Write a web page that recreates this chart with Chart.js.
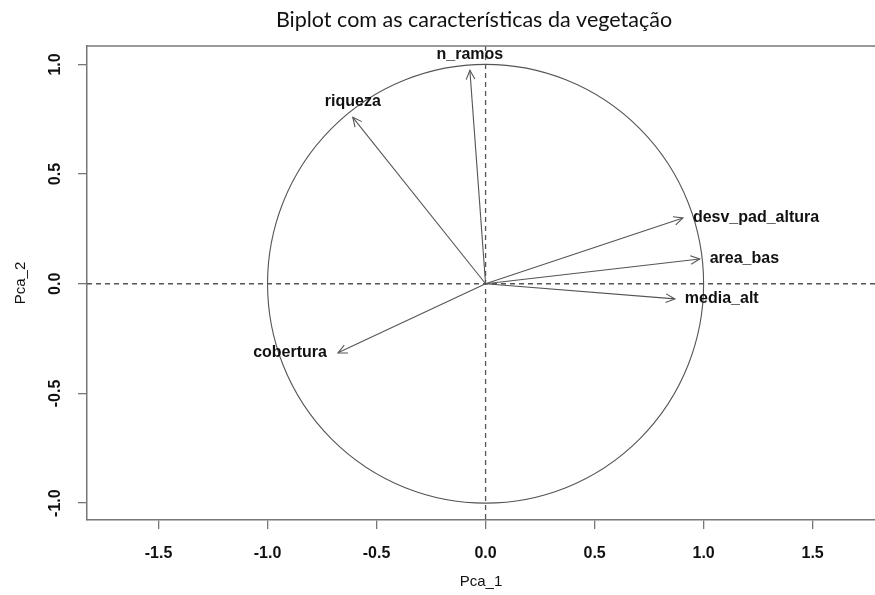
<!DOCTYPE html>
<html>
<head>
<meta charset="utf-8">
<script src="https://cdn.jsdelivr.net/npm/chart.js@4/dist/chart.umd.min.js"></script>
<style>
  html, body { margin: 0; padding: 0; background: #fff; overflow: hidden; }
  #wrap { width: 875px; height: 595px; }
</style>
</head>
<body>
<div id="wrap"><canvas id="biplot" width="875" height="595"></canvas></div>
<script>
// variáveis do PCA (cargas nos dois primeiros eixos)
const varNames = ['n_ramos', 'riqueza', 'desv_pad_altura', 'area_bas', 'media_alt', 'cobertura'];
const pca1 = [-0.072, -0.609, 0.905, 0.982, 0.868, -0.677];
const pca2 = [0.973, 0.759, 0.300, 0.113, -0.069, -0.315];

// ticks dos eixos
const xTicks = [-1.5, -1.0, -0.5, 0.0, 0.5, 1.0, 1.5];
const yTicks = [-1.0, -0.5, 0.0, 0.5, 1.0];

const chartTitle = 'Biplot com as características da vegetação';

// onde vai cada rótulo em relação à ponta da seta
const labelAlign = ['center', 'center', 'left', 'left', 'left', 'right'];

const lineColor = '#555';
const boxColor = '#777';

// uma seta = um dataset com dois pontos (origem e ponta)
const datasets = varNames.map((name, i) => ({
  label: name,
  data: [{ x: 0, y: 0 }, { x: pca1[i], y: pca2[i] }],
  showLine: true,
  borderColor: lineColor,
  borderWidth: 1.1,
  pointRadius: 0,
  fill: false,
}));

// círculo, linhas tracejadas, pontas das setas e rótulos
const biplotExtras = {
  id: 'biplotExtras',
  beforeDatasetsDraw(chart) {
    const { ctx, chartArea, scales } = chart;
    const sx = scales.x, sy = scales.y;
    const cx = sx.getPixelForValue(0), cy = sy.getPixelForValue(0);
    ctx.save();
    ctx.beginPath();
    ctx.rect(chartArea.left, chartArea.top, chartArea.right - chartArea.left, chartArea.bottom - chartArea.top);
    ctx.clip();
    // linhas tracejadas em 0
    ctx.strokeStyle = '#555';
    ctx.lineWidth = 1.3;
    ctx.setLineDash([5, 4]);
    ctx.beginPath();
    ctx.moveTo(chartArea.left, cy);
    ctx.lineTo(chartArea.right, cy);
    ctx.moveTo(cx, chartArea.top);
    ctx.lineTo(cx, chartArea.bottom);
    ctx.stroke();
    ctx.setLineDash([]);
    // círculo de correlação (raio 1)
    const rx = sx.getPixelForValue(1) - cx;
    const ry = cy - sy.getPixelForValue(1);
    ctx.strokeStyle = lineColor;
    ctx.lineWidth = 1.1;
    ctx.beginPath();
    ctx.ellipse(cx, cy, rx, ry, 0, 0, Math.PI * 2);
    ctx.stroke();
    ctx.restore();
  },
  afterDatasetsDraw(chart) {
    const { ctx, scales } = chart;
    const sx = scales.x, sy = scales.y;
    const x0 = sx.getPixelForValue(0), y0 = sy.getPixelForValue(0);
    ctx.save();
    ctx.strokeStyle = lineColor;
    ctx.lineWidth = 1.1;
    varNames.forEach((name, i) => {
      const px = sx.getPixelForValue(pca1[i]);
      const py = sy.getPixelForValue(pca2[i]);
      const ang = Math.atan2(py - y0, px - x0);
      const len = 10, spread = Math.PI / 7;
      ctx.beginPath();
      ctx.moveTo(px - len * Math.cos(ang - spread), py - len * Math.sin(ang - spread));
      ctx.lineTo(px, py);
      ctx.lineTo(px - len * Math.cos(ang + spread), py - len * Math.sin(ang + spread));
      ctx.stroke();

      // rótulo
      ctx.fillStyle = '#111';
      ctx.font = 'bold 16px "Liberation Sans", Arial, sans-serif';
      ctx.textBaseline = 'middle';
      const a = labelAlign[i];
      ctx.textAlign = a;
      let tx = px, ty = py;
      if (a === 'center') ty = py - 16;
      else if (a === 'left') tx = px + 10;
      else tx = px - 11;
      ctx.fillText(name, tx, ty);
    });
    ctx.restore();
  },
  afterDraw(chart) {
    const { ctx, chartArea, scales } = chart;
    ctx.save();
    // título (centrado como no original, que era mais largo)
    ctx.fillStyle = '#111';
    ctx.font = '21.5px Lato, "Open Sans", sans-serif';
    ctx.textAlign = 'center';
    ctx.textBaseline = 'middle';
    ctx.fillText(chartTitle, 474, 20);
    // linha de cima da caixa
    ctx.strokeStyle = boxColor;
    ctx.lineWidth = 1.5;
    ctx.beginPath();
    ctx.moveTo(chartArea.left, chartArea.top);
    ctx.lineTo(chartArea.right, chartArea.top);
    ctx.stroke();
    // rótulos do eixo y girados (estilo R)
    ctx.font = 'bold 16px "Liberation Sans", Arial, sans-serif';
    scales.y.ticks.forEach(t => {
      const y = scales.y.getPixelForValue(t.value);
      ctx.save();
      ctx.translate(56, y);
      ctx.rotate(-Math.PI / 2);
      ctx.fillText(t.value.toFixed(1), 0, 0);
      ctx.restore();
    });
    ctx.restore();
  }
};

const ctx = document.getElementById('biplot').getContext('2d');
new Chart(ctx, {
  type: 'scatter',
  data: { datasets: datasets },
  options: {
    responsive: false,
    animation: false,
    layout: { padding: { top: 46, left: 0, right: 0, bottom: 0 } },
    scales: {
      x: {
        type: 'linear',
        min: -1.828,
        max: 1.786,
        afterBuildTicks: (scale) => { scale.ticks = xTicks.map(v => ({ value: v })); },
        afterFit: (scale) => { scale.height = 75; },
        ticks: {
          color: '#111',
          font: { family: '"Liberation Sans", Arial, sans-serif', size: 16, weight: 'bold' },
          padding: 15,
          maxRotation: 0,
          callback: (v) => Number(v).toFixed(1),
        },
        grid: { drawOnChartArea: false, drawTicks: true, tickLength: 9, color: boxColor, lineWidth: 1.3 },
        border: { display: true, color: boxColor, width: 1.5 },
        title: {
          display: true,
          text: 'Pca_1',
          color: '#111',
          font: { family: '"Liberation Sans", Arial, sans-serif', size: 15 },
          padding: { top: 0, bottom: 4 },
        },
      },
      y: {
        type: 'linear',
        min: -1.077,
        max: 1.084,
        afterBuildTicks: (scale) => { scale.ticks = yTicks.map(v => ({ value: v })); },
        afterFit: (scale) => { scale.width = 87; },
        ticks: { display: false },
        grid: { drawOnChartArea: false, drawTicks: true, tickLength: 9, color: boxColor, lineWidth: 1.3 },
        border: { display: true, color: boxColor, width: 1.5 },
        title: {
          display: true,
          text: 'Pca_2',
          color: '#111',
          font: { family: '"Liberation Sans", Arial, sans-serif', size: 15 },
          padding: { top: 12, bottom: 0 },
        },
      },
    },
    plugins: {
      legend: { display: false },
      tooltip: { enabled: false },
      title: { display: false },
    },
  },
  plugins: [biplotExtras],
});
</script>
</body>
</html>
